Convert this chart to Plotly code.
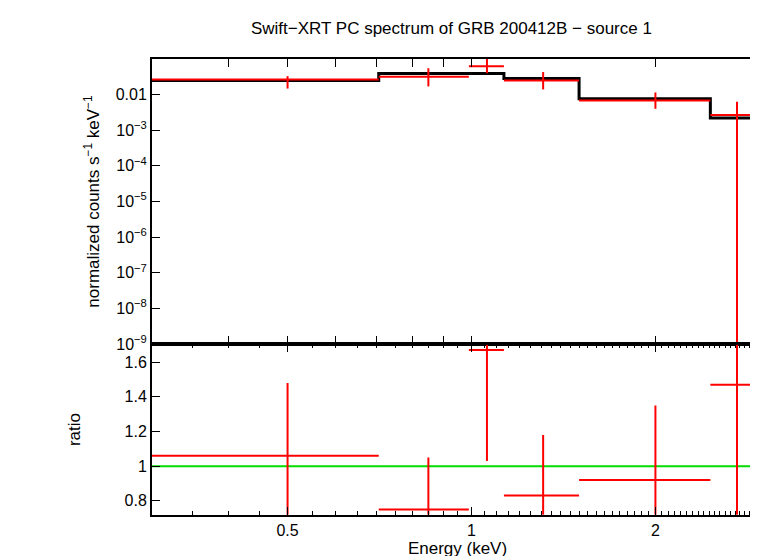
import plotly.graph_objects as go
from plotly.subplots import make_subplots

# spectral bins (keV)
e_lo = [0.30, 0.705, 0.99, 1.13, 1.50, 2.46]
e_hi = [0.705, 0.99, 1.13, 1.50, 2.46, 3.00]
e_mid = [0.50, 0.85, 1.06, 1.31, 2.00, 2.72]

# normalized counts s^-1 keV^-1
rate = [0.0267, 0.032, 0.063, 0.025, 0.0068, 0.0027]
rate_up = [0.033, 0.055, 0.10, 0.043, 0.0115, 0.0063]
rate_dn = [0.0148, 0.017, 0.040, 0.014, 0.0040, 1.05e-9]
model = [0.025, 0.039, 0.039, 0.0285, 0.0077, 0.0022]

# ratio panel
ratio = [1.06, 0.75, 1.67, 0.83, 0.92, 1.47]
ratio_up = [1.48, 1.05, 1.70, 1.18, 1.35, 1.70]
ratio_dn = [0.72, 0.72, 1.03, 0.72, 0.72, 0.72]

y_tickvals = [1e-9, 1e-8, 1e-7, 1e-6, 1e-5, 1e-4, 1e-3, 0.01]
y_ticktext = ["10<sup>−9</sup>", "10<sup>−8</sup>", "10<sup>−7</sup>", "10<sup>−6</sup>",
              "10<sup>−5</sup>", "10<sup>−4</sup>", "10<sup>−3</sup>", "0.01"]

red = "#ff0000"
fig = make_subplots(rows=2, cols=1, shared_xaxes=True, vertical_spacing=0,
                    row_heights=[0.625, 0.375])

fig.add_trace(go.Scatter(x=e_lo + [e_hi[-1]], y=model + [model[-1]], mode="lines",
                         line=dict(color="black", width=3, shape="hv")), row=1, col=1)
fig.add_trace(go.Scatter(
    x=e_mid, y=rate, mode="markers", marker=dict(size=1, color=red),
    error_x=dict(type="data", symmetric=False,
                 array=[h - m for h, m in zip(e_hi, e_mid)],
                 arrayminus=[m - l for l, m in zip(e_lo, e_mid)],
                 color=red, thickness=2, width=0),
    error_y=dict(type="data", symmetric=False,
                 array=[u - r for u, r in zip(rate_up, rate)],
                 arrayminus=[r - d for d, r in zip(rate_dn, rate)],
                 color=red, thickness=2, width=0)), row=1, col=1)

fig.add_trace(go.Scatter(x=[0.3, 3.0], y=[1, 1], mode="lines",
                         line=dict(color="#00dd00", width=2)), row=2, col=1)
fig.add_trace(go.Scatter(
    x=e_mid, y=ratio, mode="markers", marker=dict(size=1, color=red),
    error_x=dict(type="data", symmetric=False,
                 array=[h - m for h, m in zip(e_hi, e_mid)],
                 arrayminus=[m - l for l, m in zip(e_lo, e_mid)],
                 color=red, thickness=2, width=0),
    error_y=dict(type="data", symmetric=False,
                 array=[u - r for u, r in zip(ratio_up, ratio)],
                 arrayminus=[r - d for d, r in zip(ratio_dn, ratio)],
                 color=red, thickness=2, width=0)), row=2, col=1)

axis_style = dict(showline=True, linecolor="black", linewidth=2, mirror="ticks",
                  ticks="inside", ticklen=8, tickcolor="black", showgrid=False,
                  zeroline=False, tickfont=dict(size=16))
fig.update_xaxes(type="log", range=[-0.5229, 0.4771], **axis_style,
                 minor=dict(ticks="inside", ticklen=4, tickcolor="black"))
fig.update_xaxes(tickvals=[0.5, 1, 2], ticktext=["0.5", "1", "2"], row=2, col=1,
                 title=dict(text="Energy (keV)", font=dict(size=17), standoff=2))
fig.update_yaxes(type="log", range=[-9, -1], tickvals=y_tickvals, ticktext=y_ticktext,
                 row=1, col=1, **axis_style,
                 title=dict(text="normalized counts s<sup>−1</sup> keV<sup>−1</sup>",
                            font=dict(size=17), standoff=12))
fig.update_yaxes(range=[0.718, 1.705], tickvals=[0.8, 1, 1.2, 1.4, 1.6], row=2, col=1,
                 **axis_style, title=dict(text="ratio", font=dict(size=17), standoff=40))

fig.update_layout(
    width=758, height=556, showlegend=False,
    margin=dict(l=144, r=1, t=51, b=49),
    paper_bgcolor="white", plot_bgcolor="white",
    font=dict(family="Liberation Sans, Arial", color="black"),
    title=dict(text="Swift−XRT PC spectrum of GRB 200412B − source 1",
               x=0.585, xanchor="center", y=0.975, font=dict(size=17)),
)
fig.write_html("out.html")
